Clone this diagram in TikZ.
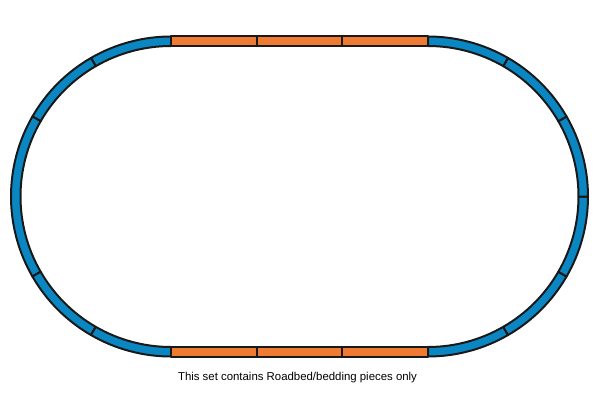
\documentclass[tikz,border=0pt]{standalone}
\usepackage{fontspec}
\setmainfont{Liberation Sans}
\usetikzlibrary{calc}
\definecolor{trackblue}{HTML}{0A87C2}
\definecolor{trackorange}{HTML}{EF7B32}
\tikzset{
  curved/.style={fill=trackblue, draw=black!90, line width=2pt, line join=round},
  straight/.style={fill=trackorange, draw=black!90, line width=2pt, line join=round},
}

\begin{document}
\begin{tikzpicture}[x=1pt,y=1pt]
\useasboundingbox (0,0) rectangle (600,400);
% Left curve
\begin{scope}[shift={(171,203.5)}]
\foreach \a/\b in {90/120,120/150,150/210,210/240,240/270} {
    \draw[curved] (\a:160) arc[start angle=\a, end angle=\b, radius=160]
        -- (\b:150.5) arc[start angle=\b, end angle=\a, radius=150.5] -- cycle;
}
\end{scope}

% Right curve
\begin{scope}[shift={(428,203.5)}]
\foreach \a/\b in {-90/-60,-60/-30,-30/0,0/30,30/60,60/90} {
    \draw[curved] (\a:160) arc[start angle=\a, end angle=\b, radius=160]
        -- (\b:150.5) arc[start angle=\b, end angle=\a, radius=150.5] -- cycle;
}
\end{scope}

% Straight pieces
\foreach \i in {0,1,2} {
    \pgfmathsetmacro{\x}{171+85.667*\i}
    \draw[straight] (\x,354) rectangle ++(85.667,9.5);
    \draw[straight] (\x,43.5) rectangle ++(85.667,9.5);
}

\node[font=\fontsize{11.4}{13}\selectfont] (caption) at (297.5,22)
    {This set contains Roadbed/bedding pieces only};
\end{tikzpicture}
\end{document}
